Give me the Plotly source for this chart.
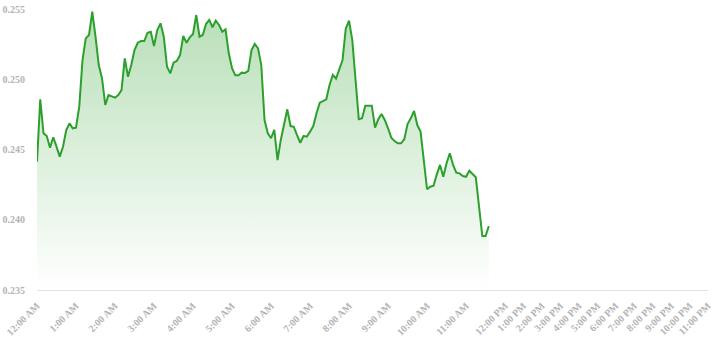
import pandas as pd
import plotly.graph_objects as go

# Price samples every 5 minutes starting at midnight
price = [
    0.24413, 0.24857, 0.24615, 0.24596, 0.24513, 0.24587, 0.24520, 0.24449, 0.24520, 0.24639,
    0.24686, 0.24651, 0.24655, 0.24805, 0.25137, 0.25291, 0.25315, 0.25481, 0.25303, 0.25101,
    0.25007, 0.24817, 0.24888, 0.24881, 0.24869, 0.24888, 0.24923, 0.25149, 0.25018, 0.25101,
    0.25208, 0.25260, 0.25272, 0.25272, 0.25331, 0.25338, 0.25237, 0.25350, 0.25398, 0.25303,
    0.25089, 0.25042, 0.25118, 0.25130, 0.25172, 0.25308, 0.25260, 0.25298, 0.25322, 0.25457,
    0.25303, 0.25315, 0.25393, 0.25422, 0.25370, 0.25417, 0.25386, 0.25338, 0.25355, 0.25185,
    0.25078, 0.25028, 0.25028, 0.25047, 0.25045, 0.25059, 0.25208, 0.25251, 0.25220, 0.25101,
    0.24710, 0.24615, 0.24580, 0.24639, 0.24425, 0.24568, 0.24686, 0.24786, 0.24667, 0.24662,
    0.24603, 0.24548, 0.24596, 0.24591, 0.24627, 0.24667, 0.24758, 0.24833, 0.24845, 0.24857,
    0.24959, 0.25030, 0.25005, 0.25066, 0.25137, 0.25362, 0.25417, 0.25279, 0.24995, 0.24715,
    0.24722, 0.24812, 0.24812, 0.24812, 0.24655, 0.24715, 0.24753, 0.24710, 0.24651, 0.24584,
    0.24560, 0.24544, 0.24544, 0.24573, 0.24681, 0.24722, 0.24774, 0.24674, 0.24627, 0.24425,
    0.24217, 0.24235, 0.24242, 0.24323, 0.24390, 0.24306, 0.24402, 0.24473, 0.24390, 0.24335,
    0.24330, 0.24311, 0.24306, 0.24349, 0.24326, 0.24302, 0.24093, 0.23884, 0.23884, 0.23955,
]
times = pd.date_range("2024-01-01 00:00", periods=len(price), freq="5min")

hour_labels = [
    "12:00 AM", "1:00 AM", "2:00 AM", "3:00 AM", "4:00 AM", "5:00 AM",
    "6:00 AM", "7:00 AM", "8:00 AM", "9:00 AM", "10:00 AM", "11:00 AM",
    "12:00 PM", "1:00 PM", "2:00 PM", "3:00 PM", "4:00 PM", "5:00 PM",
    "6:00 PM", "7:00 PM", "8:00 PM", "9:00 PM", "10:00 PM", "11:00 PM",
]
y_ticks = [0.235, 0.240, 0.245, 0.250, 0.255]

# Morning hours get full width; afternoon hours are compressed
PM_STEP = 0.473


def axis_pos(hours):
    return hours if hours <= 12 else 12 + (hours - 12) * PM_STEP


x_pos = [axis_pos(t.hour + t.minute / 60) for t in times]
tick_pos = [axis_pos(h) for h in range(len(hour_labels))]

GREEN = "rgb(44,160,44)"
GREY = "#b4b4b4"

fig = go.Figure(
    go.Scatter(
        x=x_pos,
        y=price,
        mode="lines",
        line=dict(color=GREEN, width=2),
        fill="tozeroy",
        fillgradient=dict(
            type="vertical",
            start=0.235,
            stop=0.255,
            colorscale=[[0, "rgba(44,160,44,0.0)"], [1, "rgba(44,160,44,0.34)"]],
        ),
        hoverinfo="skip",
    )
)

fig.update_layout(
    width=718,
    height=340,
    margin=dict(l=37, r=10, t=9, b=50),
    paper_bgcolor="white",
    plot_bgcolor="white",
    showlegend=False,
    font=dict(family="Liberation Serif, Times New Roman, serif", size=10,
              color=GREY, weight="bold"),
)
fig.update_xaxes(
    range=[0, tick_pos[-1]],
    tickmode="array",
    tickvals=tick_pos,
    ticktext=hour_labels,
    tickangle=-45,
    showgrid=False,
    zeroline=False,
    showline=True,
    linecolor="#e3e3e3",
    linewidth=1,
    ticks="",
    ticklabelstandoff=5,
    automargin=False,
)
fig.update_yaxes(
    range=[0.235, 0.255],
    tickmode="array",
    tickvals=y_ticks,
    ticktext=[f"{v:.3f}" for v in y_ticks],
    showgrid=False,
    zeroline=False,
    showline=False,
    ticks="",
    ticklabelstandoff=11,
    automargin=False,
)

fig.write_html("out.html")
